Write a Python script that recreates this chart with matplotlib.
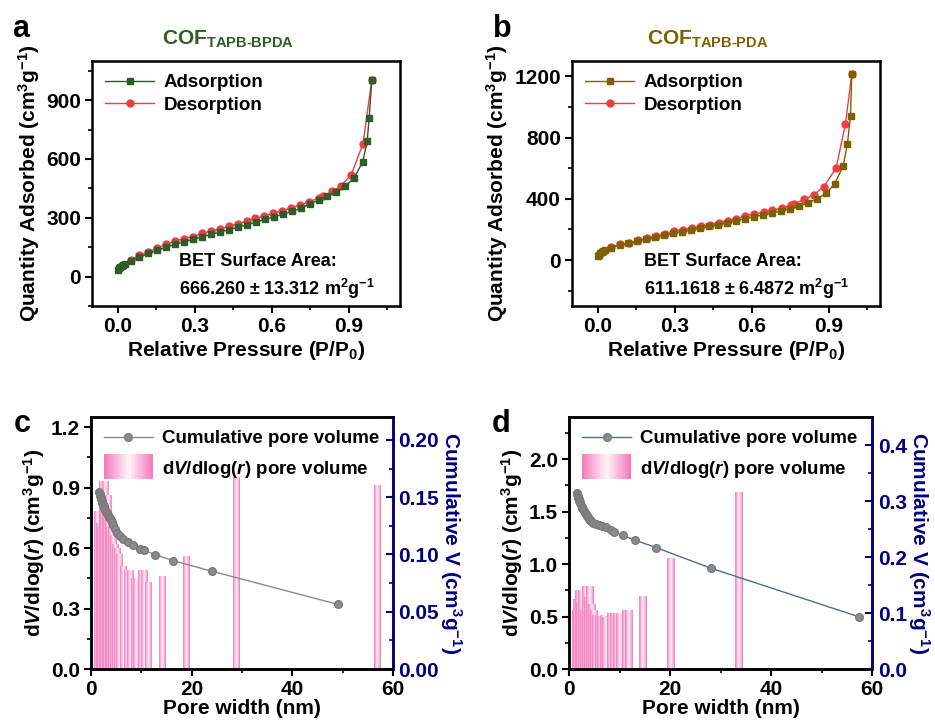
import numpy as np
import matplotlib
matplotlib.use('Agg')
import matplotlib.pyplot as plt
from matplotlib.colors import LinearSegmentedColormap
from matplotlib.legend_handler import HandlerBase
from matplotlib.patches import Rectangle
from matplotlib.lines import Line2D
from matplotlib.ticker import MultipleLocator, FormatStrFormatter

plt.rcParams['font.family'] = ['Liberation Sans', 'DejaVu Sans']
plt.rcParams['font.weight'] = 'bold'
plt.rcParams['axes.labelweight'] = 'bold'
plt.rcParams['mathtext.fontset'] = 'custom'
plt.rcParams['mathtext.rm'] = 'Liberation Sans:bold'
plt.rcParams['mathtext.bf'] = 'Liberation Sans:bold'
plt.rcParams['mathtext.it'] = 'Liberation Sans:italic:bold'
plt.rcParams['mathtext.default'] = 'rm'

# ---- isotherm data, COF TAPB-BPDA (panel a)
a_ads_x = [0.003, 0.006, 0.01, 0.015, 0.02, 0.03, 0.05, 0.085, 0.12, 0.155, 0.19, 0.225,
           0.26, 0.295, 0.33, 0.365, 0.40, 0.435, 0.47, 0.505, 0.54, 0.575, 0.61, 0.645,
           0.68, 0.715, 0.75, 0.783, 0.816, 0.852, 0.887, 0.922, 0.955, 0.972, 0.98, 0.99]
a_ads_y = [35, 42, 50, 56, 60, 66, 80, 100, 118, 135, 150, 165, 178, 190, 203, 215, 228,
           240, 252, 265, 278, 292, 305, 318, 333, 348, 372, 390, 411, 433, 460, 505, 586,
           690, 811, 1004]
a_des_x = [0.99, 0.956, 0.91, 0.871, 0.836, 0.80, 0.785, 0.746, 0.711, 0.677, 0.642, 0.607,
           0.571, 0.537, 0.502, 0.467, 0.433, 0.398, 0.363, 0.329, 0.293, 0.258, 0.224,
           0.19, 0.154, 0.12, 0.085, 0.052]
a_des_y = [1004, 678, 520, 464, 435, 411, 402, 382, 365, 351, 337, 322, 308, 297, 283, 269,
           256, 244, 232, 220, 204, 193, 181, 164, 147, 126, 109, 87]

# ---- isotherm data, COF TAPB-PDA (panel b)
b_ads_x = a_ads_x[:27] + [0.786, 0.82, 0.856, 0.89, 0.923, 0.956, 0.973, 0.985, 0.99]
b_ads_y = [25, 35, 45, 52, 58, 66, 80, 97, 110, 124, 137, 150, 163, 175, 186, 197, 208,
           220, 232, 244, 257, 270, 283, 295, 307, 320, 335, 352, 374, 400, 437, 497, 612,
           761, 940, 1215]
b_des_x = [0.99, 0.965, 0.929, 0.88, 0.841, 0.805, 0.766, 0.753, 0.717, 0.681, 0.647, 0.61,
           0.575, 0.54, 0.506, 0.471, 0.437, 0.402, 0.367, 0.333, 0.297, 0.262, 0.227,
           0.192, 0.157, 0.121, 0.087, 0.052]
b_des_y = [1215, 886, 601, 476, 426, 396, 368, 357, 342, 324, 313, 300, 288, 270, 257, 244,
           231, 220, 210, 199, 188, 173, 158, 143, 128, 112, 102, 86]

# ---- pore size distribution (panel c)
c_bar_x = [1.15, 1.5, 1.8, 2.1, 2.4, 2.7, 3.0, 3.3, 3.6, 3.9, 4.3, 4.7, 5.1, 5.6, 6.4, 7.1,
           7.8, 8.5, 9.0, 10.0, 10.5, 11.4, 14.1, 18.8, 28.9, 56.9]
c_bar_h = [0.78, 0.72, 0.70, 0.93, 0.80, 0.93, 0.75, 0.86, 0.70, 0.72, 0.66, 0.62, 0.60,
           0.57, 0.51, 0.49, 0.49, 0.45, 0.45, 0.49, 0.49, 0.43, 0.46, 0.56, 0.95, 0.91]
c_cum_x = [1.59, 1.7, 1.8, 1.9, 2.0, 2.1, 2.25, 2.4, 2.5, 2.65, 2.84, 3.0, 3.17, 3.37, 3.57,
           3.77, 3.97, 4.2, 4.43, 4.83, 5.22, 5.75, 6.4, 7.3, 8.3, 9.7, 10.5, 12.8, 16.3,
           24.1, 49.1]
c_cum_y = [0.1547, 0.1525, 0.151, 0.1495, 0.148, 0.1465, 0.145, 0.1435, 0.142, 0.1405,
           0.139, 0.1375, 0.136, 0.1345, 0.133, 0.1315, 0.130, 0.128, 0.126, 0.122, 0.119,
           0.1165, 0.1136, 0.111, 0.108, 0.105, 0.1037, 0.0999, 0.0946, 0.0853, 0.0564]

# ---- pore size distribution (panel d)
d_bar_x = [1.2, 1.5, 1.8, 2.1, 2.5, 2.8, 3.2, 3.6, 4.0, 4.4, 4.8, 5.3, 5.8, 6.3, 6.8, 7.3,
           8.2, 8.8, 9.4, 10.0, 11.1, 11.8, 14.5, 20.0, 33.5]
d_bar_h = [0.56, 0.66, 0.75, 0.62, 0.75, 0.56, 0.79, 0.68, 0.79, 0.61, 0.56, 0.51, 0.51,
           0.50, 0.50, 0.49, 0.53, 0.53, 0.53, 0.53, 0.56, 0.56, 0.69, 1.05, 1.68]
d_cum_x = [1.52, 1.6, 1.7, 1.8, 1.9, 2.0, 2.1, 2.2, 2.35, 2.5, 2.65, 2.8, 2.95, 3.1, 3.3,
           3.5, 3.7, 3.9, 4.1, 4.4, 4.8, 5.3, 5.9, 6.5, 7.3, 8.4, 9.0, 10.6, 13.1, 17.2,
           28.1, 57.5]
d_cum_y = [0.315, 0.312, 0.309, 0.306, 0.303, 0.300, 0.298, 0.296, 0.293, 0.290, 0.287,
           0.285, 0.282, 0.279, 0.276, 0.273, 0.271, 0.268, 0.266, 0.264, 0.261, 0.259,
           0.257, 0.255, 0.253, 0.248, 0.245, 0.239, 0.230, 0.217, 0.180, 0.093]

green = '#2f5c28'
olive = '#7d6000'
red = '#f23c46'
navy = '#000080'
pink_cmap = LinearSegmentedColormap.from_list(
    'pinkbar', ['#f27cbd', '#fbb8dc', '#fff3f9', '#fbb8dc', '#f27cbd'])


class GradHandler(HandlerBase):
    def create_artists(self, legend, orig_handle, xdescent, ydescent, width, height,
                       fontsize, trans):
        n = 24
        arts = []
        for i in range(n):
            r = Rectangle((xdescent + i * width / n, ydescent - height * 0.45),
                          width / n + 0.3, height * 1.9,
                          facecolor=pink_cmap(i / (n - 1)), edgecolor='none',
                          transform=trans)
            arts.append(r)
        return arts


def style_axes(ax):
    for s in ax.spines.values():
        s.set_linewidth(1.8)
    ax.tick_params(which='major', direction='out', length=5, width=1.5, labelsize=15,
                   top=False, right=False, pad=3)
    ax.tick_params(which='minor', direction='out', length=3, width=1.2, top=False,
                   right=False)


fig = plt.figure(figsize=(9.35, 7.2), dpi=100)

# ---- isotherm panels
iso = [
    ([0.0984, 0.575, 0.3294, 0.3403], a_ads_x, a_ads_y, a_des_x, a_des_y, green,
     r'COF$_{\mathrm{TAPB‐BPDA}}$', (-150, 1100), 300,
     'BET Surface Area:\n666.260 ± 13.312 m$^{2}$g$^{-1}$', 0.282, 'a'),
    ([0.6118, 0.575, 0.3294, 0.3403], b_ads_x, b_ads_y, b_des_x, b_des_y, olive,
     r'COF$_{\mathrm{TAPB‐PDA}}$', (-300, 1300), 400,
     'BET Surface Area:\n611.1618 ± 6.4872 m$^{2}$g$^{-1}$', 0.234, 'b'),
]
for rect, ax_x, ax_y, de_x, de_y, col, title, ylim, ystep, bet, betx, letter in iso:
    ax = fig.add_axes(rect)
    ax.plot(de_x, de_y, '-o', color=red, lw=1.0, ms=5, label='Desorption', zorder=2)
    ax.plot(ax_x, ax_y, '-s', color=col, lw=1.0, ms=5, label='Adsorption', zorder=3)
    ax.set_xlim(-0.1, 1.1)
    ax.set_ylim(*ylim)
    ax.xaxis.set_major_locator(MultipleLocator(0.3))
    ax.xaxis.set_minor_locator(MultipleLocator(0.15))
    ax.xaxis.set_major_formatter(FormatStrFormatter('%.1f'))
    ax.yaxis.set_major_locator(MultipleLocator(ystep))
    ax.yaxis.set_minor_locator(MultipleLocator(ystep / 2))
    style_axes(ax)
    ax.set_xlabel('Relative Pressure (P/P$_{0}$)', fontsize=15, labelpad=2)
    ax.set_ylabel('Quantity Adsorbed (cm$^{3}$g$^{-1}$)', fontsize=15, labelpad=3)
    h, l = ax.get_legend_handles_labels()
    ax.legend(h[::-1], l[::-1], loc='upper left', frameon=False, fontsize=13.5,
              handlelength=2.6, handletextpad=0.5, labelspacing=0.3,
              borderaxespad=0.3)
    ax.text(betx, 0.215, bet, transform=ax.transAxes, fontsize=13, va='top',
            linespacing=1.35)
    ax.text(0.44, 1.045, title, transform=ax.transAxes, fontsize=15, color=col,
            ha='center', va='bottom')
    fig.text(rect[0] - 0.085, 0.948, letter, fontsize=22, fontweight='bold')

# ---- pore size panels
psd = [
    ([0.0973, 0.0708, 0.323, 0.35], c_bar_x, c_bar_h, 1.2, c_cum_x, c_cum_y, '#8a8a8a',
     1.25, 0.3, 0.22, 0.05, '%.2f', 'c'),
    ([0.6086, 0.0708, 0.3241, 0.35], d_bar_x, d_bar_h, 1.4, d_cum_x, d_cum_y, '#4a7090',
     2.4, 0.5, 0.45, 0.1, '%.1f', 'd'),
]
grad = np.linspace(0, 1, 64).reshape(1, -1)
for rect, bx, bh, bw, cx, cy, lcol, ytop, ystep, rtop, rstep, rfmt, letter in psd:
    ax = fig.add_axes(rect)
    for x, h in zip(bx, bh):
        ax.imshow(grad, extent=[x - bw / 2, x + bw / 2, 0, h], aspect='auto',
                  cmap=pink_cmap, interpolation='bilinear', zorder=2)
    ax.set_xlim(0, 60)
    ax.set_ylim(0, ytop)
    ax.xaxis.set_major_locator(MultipleLocator(20))
    ax.xaxis.set_minor_locator(MultipleLocator(10))
    ax.yaxis.set_major_locator(MultipleLocator(ystep))
    ax.yaxis.set_minor_locator(MultipleLocator(ystep / 2))
    ax.yaxis.set_major_formatter(FormatStrFormatter('%.1f'))
    style_axes(ax)
    ax.set_xlabel('Pore width (nm)', fontsize=15, labelpad=0)
    ax.set_ylabel(r'd$\mathit{V}$/dlog($\mathit{r}$) (cm$^{3}$g$^{-1}$)', fontsize=15,
                  labelpad=3)

    ax2 = ax.twinx()
    ax2.plot(cx, cy, '-', color=lcol, lw=1.0, zorder=3)
    ax2.plot(cx, cy, 'o', color='#8c8c8c', mec='#7a7a7a', ms=5.5, zorder=4)
    ax2.set_ylim(0, rtop)
    ax2.yaxis.set_major_locator(MultipleLocator(rstep))
    ax2.yaxis.set_minor_locator(MultipleLocator(rstep / 2))
    ax2.yaxis.set_major_formatter(FormatStrFormatter(rfmt))
    for s in ax2.spines.values():
        s.set_linewidth(1.8)
    ax2.spines['right'].set_color(navy)
    ax2.tick_params(axis='y', which='major', direction='in', length=5, width=1.5,
                    labelsize=15, colors=navy, pad=4)
    ax2.tick_params(axis='y', which='minor', direction='in', length=3, width=1.2,
                    colors=navy)
    ax2.set_ylabel('Cumulative V (cm$^{3}$g$^{-1}$)', fontsize=15, color=navy,
                   rotation=270, labelpad=18)

    bar_h = Rectangle((0, 0), 1, 1)
    ax2.legend([Line2D([0, 1], [0, 0], color=lcol, lw=1.0, marker='o', ms=5.5,
                       mfc='#8c8c8c', mec='#7a7a7a', markevery=[0]), bar_h],
               ['Cumulative pore volume', r'd$\mathit{V}$/dlog($\mathit{r}$) pore volume'],
               handler_map={Rectangle: GradHandler()}, loc='upper left', frameon=False,
               fontsize=13.5, handlelength=2.6, handletextpad=0.5, labelspacing=0.6,
               borderaxespad=0.3)
    fig.text(rect[0] - 0.083, 0.40, letter, fontsize=22, fontweight='bold')

fig.savefig('out.png', dpi=100)
